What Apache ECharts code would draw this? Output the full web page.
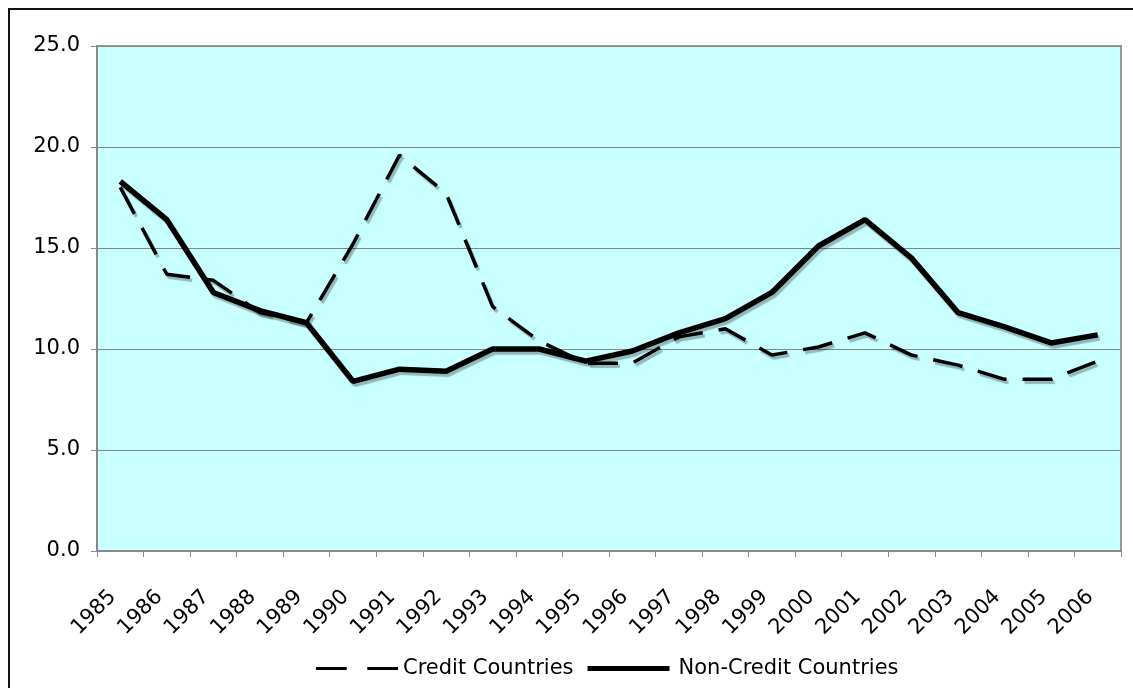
<!DOCTYPE html>
<html>
<head>
<meta charset="utf-8">
<script src="https://cdn.jsdelivr.net/npm/echarts@6/dist/echarts.min.js"></script>
<style>
  html, body { margin: 0; padding: 0; background: #fff; }
  #chart { width: 1133px; height: 688px; }
</style>
</head>
<body>
<div id="chart"></div>
<script>
// Years on the category axis
const years = ['1985','1986','1987','1988','1989','1990','1991','1992','1993','1994','1995',
               '1996','1997','1998','1999','2000','2001','2002','2003','2004','2005','2006'];

// Series values
const creditCountries = [18.0, 13.7, 13.4, 11.8, 11.3, 15.2, 19.6, 17.7, 12.1, 10.4, 9.3,
                         9.3, 10.6, 11.0, 9.7, 10.1, 10.8, 9.7, 9.2, 8.5, 8.5, 9.4];
const nonCreditCountries = [18.3, 16.4, 12.8, 11.9, 11.3, 8.4, 9.0, 8.9, 10.0, 10.0, 9.4,
                            9.9, 10.8, 11.5, 12.8, 15.1, 16.4, 14.5, 11.8, 11.1, 10.3, 10.7];

// Value axis range
const yMin = 0, yMax = 25, yStep = 5;

const FONT = 'DejaVu Sans';
const shadow = { shadowColor: 'rgba(0,0,0,0.28)', shadowBlur: 1, shadowOffsetX: 2, shadowOffsetY: 3 };

const chart = echarts.init(document.getElementById('chart'), null, { renderer: 'canvas' });
chart.setOption({
  animation: false,
  backgroundColor: '#ffffff',
  textStyle: { fontFamily: FONT },
  graphic: [{
    type: 'rect',
    shape: { x: 9, y: 9, width: 1200, height: 800 },
    style: { fill: 'none', stroke: '#111', lineWidth: 2 },
    silent: true
  }],
  grid: {
    left: 97, right: 12, top: 46, bottom: 137,
    show: true, backgroundColor: '#C8FFFF', borderColor: '#9a9a9a', borderWidth: 2
  },
  legend: {
    left: 311, top: 653,
    itemWidth: 82, itemHeight: 14, itemGap: 14,
    textStyle: { fontFamily: FONT, fontSize: 21, color: '#000' },
    data: [
      { name: 'Credit Countries', icon: 'path://M0,0H30V3H0Z M50,0H80V3H50Z', itemStyle: { color: '#000' } },
      { name: 'Non-Credit Countries', icon: 'path://M0,0H86V5H0Z', itemStyle: { color: '#000' },
        textStyle: { padding: [0, 0, 0, 4] } }
    ]
  },
  xAxis: {
    type: 'category',
    data: years,
    boundaryGap: true,
    axisLine: { lineStyle: { color: '#888', width: 2 } },
    axisTick: { show: true, interval: 0, length: 6, lineStyle: { color: '#888' } },
    axisLabel: {
      interval: 0, rotate: 45, margin: 50, verticalAlign: 'bottom',
      fontFamily: FONT, fontSize: 21, color: '#000'
    },
    splitLine: { show: false }
  },
  yAxis: {
    type: 'value',
    min: yMin, max: yMax, interval: yStep,
    axisLine: { show: true, lineStyle: { color: '#888', width: 2 } },
    axisTick: { show: true, length: 6, lineStyle: { color: '#888' } },
    axisLabel: {
      margin: 17, fontFamily: FONT, fontSize: 21, color: '#000',
      formatter: v => v.toFixed(1)
    },
    splitLine: { show: true, lineStyle: { color: '#858585', width: 1 } }
  },
  series: [
    {
      name: 'Credit Countries',
      type: 'line',
      data: creditCountries,
      symbol: 'none',
      lineStyle: Object.assign({ color: '#000', width: 3.5, type: [30, 16] }, shadow),
      itemStyle: { color: '#000' }
    },
    {
      name: 'Non-Credit Countries',
      type: 'line',
      data: nonCreditCountries,
      symbol: 'none',
      lineStyle: Object.assign({ color: '#000', width: 5.5 }, shadow),
      itemStyle: { color: '#000' }
    }
  ]
});
</script>
</body>
</html>
